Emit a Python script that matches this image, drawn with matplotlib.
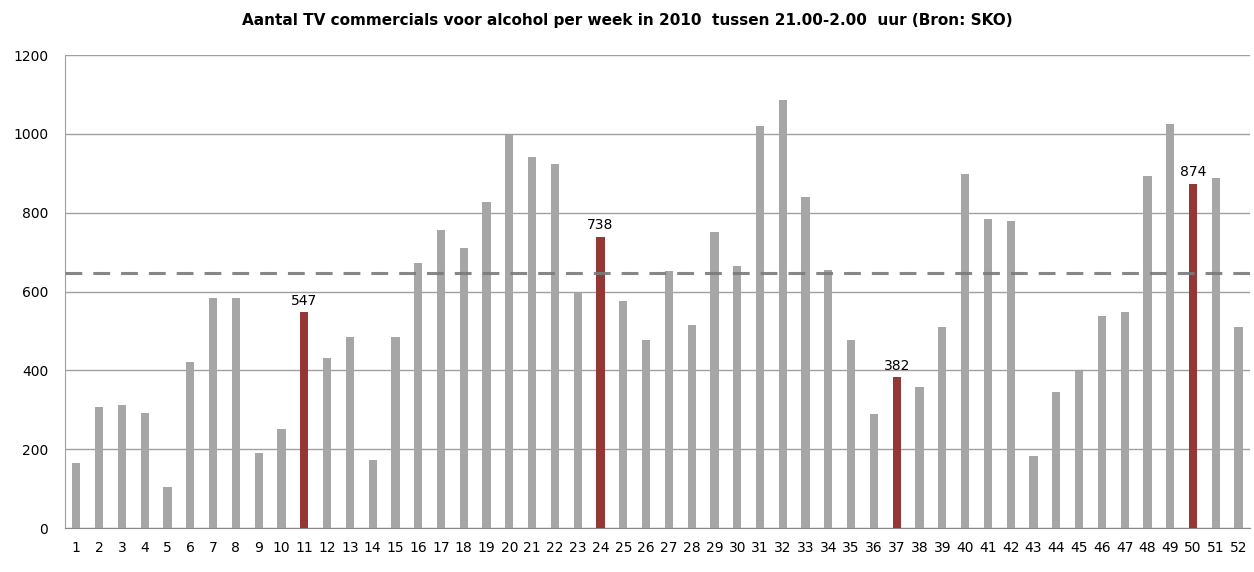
import numpy as np
import matplotlib
matplotlib.use("Agg")
import matplotlib.pyplot as plt

# data
weeks = list(range(1, 53))
counts = [165, 307, 311, 293, 105, 421, 584, 584, 190, 250,
          547, 431, 484, 172, 484, 672, 757, 711, 828, 997,
          942, 924, 600, 738, 576, 476, 651, 516, 750, 664,
          1020, 1087, 839, 654, 476, 289, 382, 357, 509, 899,
          785, 779, 182, 346, 398, 537, 548, 892, 1026, 874,
          888, 509]
highlight_weeks = [11, 24, 37, 50]
average = 646

title = "Aantal TV commercials voor alcohol per week in 2010  tussen 21.00-2.00  uur (Bron: SKO)"

fig = plt.figure(figsize=(12.54, 5.72), dpi=100)
ax = fig.add_axes([0.0518, 0.0769, 0.9450, 0.8269])

x = np.arange(len(weeks))
colors = ['#953735' if w in highlight_weeks else '#A6A6A6' for w in weeks]
ax.bar(x, counts, width=0.36, color=colors, zorder=3)

# labels above highlighted bars
for i, w in enumerate(weeks):
    if w in highlight_weeks:
        ax.text(x[i], counts[i] + 12, str(counts[i]), ha='center', va='bottom',
                fontsize=10, color='black', zorder=4)

# average line, drawn over the bars
ax.axhline(average, color='#7A7A7A', lw=2.2, dashes=(5.5, 3.6), alpha=0.9, zorder=4)

ax.set_xlim(-0.5, len(weeks) - 0.5)
ax.set_ylim(0, 1200)
ax.set_yticks(np.arange(0, 1201, 200))
ax.set_xticks(x)
ax.set_xticklabels([str(w) for w in weeks])
ax.tick_params(axis='both', length=0, labelsize=10)
ax.tick_params(axis='y', pad=12)
ax.tick_params(axis='x', pad=9)

ax.grid(axis='y', color='#A0A0A0', lw=1, zorder=0)
for s in ['top', 'right']:
    ax.spines[s].set_visible(False)
ax.spines['left'].set_color('#A0A0A0')
ax.spines['bottom'].set_color('#888888')

fig.text(0.5, 0.965, title, ha='center', va='center', fontsize=11, fontweight='bold')

fig.savefig("out.png", dpi=100)
